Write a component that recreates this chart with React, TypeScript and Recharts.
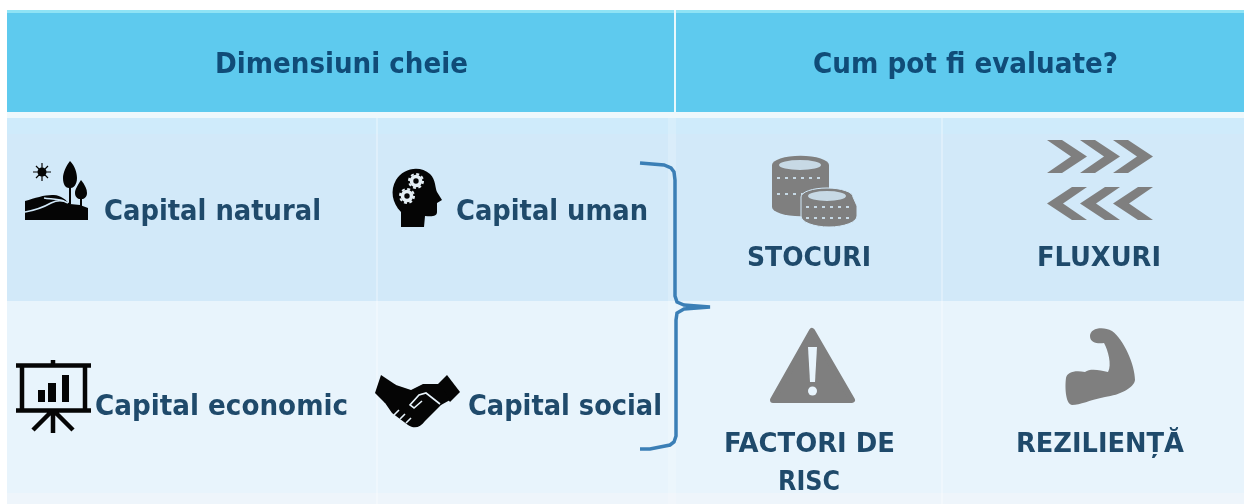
import { ReferenceArea, ReferenceLine, Scatter, ScatterChart, XAxis, YAxis } from "recharts";

const W = 1244;
const H = 504;

const TEXT_DARK = "#1f4a6b";
const TEXT_HEAD = "#104c78";
const GREY = "#7f7f7f";
const BLACK = "#050505";

// table bands, in picture pixels
const bands = [
  { x1: 7, x2: W, y1: 10, y2: 13, fill: "#8fe3f5" },
  { x1: 7, x2: W, y1: 13, y2: 112, fill: "#5ecaee" },
  { x1: 7, x2: W, y1: 112, y2: 118, fill: "#eef8fc" },
  { x1: 7, x2: W, y1: 118, y2: 134, fill: "#cfebfb" },
  { x1: 7, x2: W, y1: 134, y2: 301, fill: "#d2e9f9" },
  { x1: 7, x2: W, y1: 301, y2: 493, fill: "#e8f4fc" },
  { x1: 7, x2: W, y1: 493, y2: H, fill: "#eef5fb" },
];

const dividers = [
  { x: 377, y1: 118, y2: H, stroke: "#ffffff", w: 2, o: 0.3 },
  { x: 675, y1: 10, y2: 112, stroke: "#e8f8fc", w: 2, o: 1 },
  { x: 672, y1: 118, y2: H, stroke: "#ffffff", w: 8, o: 0.18 },
  { x: 942, y1: 118, y2: H, stroke: "#ffffff", w: 2, o: 0.3 },
];

// text labels
const labelTexts = [
  "Dimensiuni cheie",
  "Cum pot fi evaluate?",
  "Capital natural",
  "Capital uman",
  "Capital economic",
  "Capital social",
  "STOCURI",
  "FLUXURI",
  "FACTORI DE",
  "RISC",
  "REZILIENȚĂ",
];
const labelLeft = [215, 813, 104, 456, 95, 468, 747, 1037, 724, 778, 1016];
const labelBase = [73, 73, 220, 220, 415, 415, 266, 266, 452, 490, 452];
const labelWidth = [253, 305, 217, 192, 253, 194, 124, 124, 171, 62, 168];
const labelSize = [28, 28, 28, 28, 28, 28, 27, 27, 27, 27, 27];
const labelColor = [
  TEXT_HEAD,
  TEXT_HEAD,
  TEXT_DARK,
  TEXT_DARK,
  TEXT_DARK,
  TEXT_DARK,
  TEXT_DARK,
  TEXT_DARK,
  TEXT_DARK,
  TEXT_DARK,
  TEXT_DARK,
];

const labelRows = labelTexts.map((text, i) => ({
  x: labelLeft[i],
  y: labelBase[i],
  text,
  width: labelWidth[i],
  size: labelSize[i],
  color: labelColor[i],
}));

const iconNames = ["landscape", "head", "easel", "handshake", "coins", "chevrons", "warning", "bicep"];
const iconRows = iconNames.map((name) => ({ x: 0, y: 0, name }));

// curly bracket between the two halves of the table
const bracketX = [640, 652, 664, 671, 674, 675, 675, 677, 684, 710, 684, 677, 676, 676, 674, 670, 660, 650, 640];
const bracketY = [163, 164, 165, 168, 172, 180, 296, 302, 305, 307, 309, 313, 320, 436, 442, 445, 447, 449, 449];
const bracketPoints = bracketX.map((x, i) => ({ x, y: bracketY[i] }));

function Landscape() {
  return (
    <g fill={BLACK}>
      <circle cx={42} cy={172} r={4.5} />
      <path d="M42 163V181M33 172H51M36 166L48 178M48 166L36 178" stroke={BLACK} strokeWidth={1.2} />
      <path d="M70 161C75 166 77 173 77 178C77 185 73 188 71 188V204H69V188C66 188 63 185 63 178C63 173 66 166 70 161Z" />
      <path d="M81 180C85 185 87 189 87 193C87 197 84 199 82 199V207H80V199C78 199 75 197 75 193C75 189 78 185 81 180Z" />
      <path d="M25 201C35 198 44 195 52 195C60 194 66 200 70 204L80 205L88 208V220H25Z" />
      <path d="M25 212C36 210 44 207 51 203C57 200 63 200 68 203M44 198C50 199 58 199 64 201" fill="none" stroke="#d2e9f9" strokeWidth={1.6} />
    </g>
  );
}

function Head() {
  return (
    <g>
      <path
        d="M401 227L401 212C392 203 390 190 396 180C403 168 420 165 430 174C436 180 435 188 437 192L442 200L437 203L437 212C437 216 433 217 425 216L424 227Z"
        fill={BLACK}
      />
      <circle cx={416} cy={181} r={4.5} fill="none" stroke="#e4eef4" strokeWidth={3.6} />
      <circle cx={416} cy={181} r={7} fill="none" stroke="#e4eef4" strokeWidth={2} strokeDasharray="3 2.5" />
      <circle cx={407} cy={196} r={4.5} fill="none" stroke="#e4eef4" strokeWidth={3.6} />
      <circle cx={407} cy={196} r={7} fill="none" stroke="#e4eef4" strokeWidth={2} strokeDasharray="3 2.5" />
    </g>
  );
}

function Easel() {
  return (
    <g>
      <path
        d="M16 365.5H91M22 365V410M85 365V410M16 410.5H91M53 360V365M53 410V433M51 412L33 430M55 412L73 430"
        stroke={BLACK}
        strokeWidth={4.5}
        fill="none"
      />
      <path d="M38 390H45V402H38ZM48 383H56V402H48ZM62 375H69V402H62Z" fill={BLACK} />
    </g>
  );
}

function Handshake() {
  return (
    <g>
      <path d="M381 375L396 385L385 403L375 393Z" fill={BLACK} />
      <path d="M447 375L460 392L450 402L437 385Z" fill={BLACK} />
      <path
        d="M393 384L411 390L423 384L440 384L450 400L441 405L425 421C420 428 414 429 408 425L392 413L383 400Z"
        fill={BLACK}
      />
      <path
        d="M440 404L426 393L419 395L410 405L414 408L422 401M399 410L394 415M405 414L400 419M411 418L406 423"
        fill="none"
        stroke="#e8f4fc"
        strokeWidth={1.6}
      />
    </g>
  );
}

function Coins() {
  return (
    <g>
      <path d="M772 165A28 9 0 0 1 829 165V207A28 9 0 0 1 772 207Z" fill={GREY} />
      <ellipse cx={800} cy={165} rx={21} ry={5} fill="#c7d9e5" />
      <path d="M777 178H824M777 194H824" stroke="#c7d9e5" strokeWidth={2} strokeDasharray="3 5" />
      <path d="M801 197A26 9 0 0 1 853 197L857 206V216A28 11 0 0 1 801 216Z" fill={GREY} stroke="#d2e9f9" strokeWidth={1} />
      <ellipse cx={827} cy={196} rx={19} ry={5} fill="#c7d9e5" />
      <path d="M806 207H850M806 218H850" stroke="#c7d9e5" strokeWidth={2} strokeDasharray="3 5" />
    </g>
  );
}

const chevronOffsets = [0, 33, 66];

function Chevrons() {
  return (
    <g fill={GREY}>
      {chevronOffsets.map((dx) => (
        <path key={`r${dx}`} d={`M${1047 + dx} 140H${1062 + dx}L${1087 + dx} 156.5L${1062 + dx} 173H${1047 + dx}L${1071 + dx} 156.5Z`} />
      ))}
      {chevronOffsets.map((dx) => (
        <path key={`l${dx}`} d={`M${1087 + dx} 187H${1072 + dx}L${1047 + dx} 203.5L${1072 + dx} 220H${1087 + dx}L${1063 + dx} 203.5Z`} />
      ))}
    </g>
  );
}

function Warning() {
  return (
    <g>
      <path d="M812 331L852 400H773Z" fill={GREY} stroke={GREY} strokeWidth={6} strokeLinejoin="round" />
      <path d="M808 347H817L815 382H810Z" fill="#e8f4fc" />
      <circle cx={812.5} cy={391} r={4.5} fill="#e8f4fc" />
    </g>
  );
}

function Bicep() {
  return (
    <path
      d="M1090 336C1090 328 1103 326 1112 331C1124 340 1135 365 1135 380C1134 388 1120 395 1105 397C1090 400 1080 405 1072 405C1065 404 1065 385 1066 378C1067 372 1075 370 1085 372C1090 368 1100 370 1108 372C1112 365 1108 350 1104 343C1098 344 1090 343 1090 336Z"
      fill={GREY}
    />
  );
}

const iconParts: Record<string, () => React.ReactElement> = {
  landscape: Landscape,
  head: Head,
  easel: Easel,
  handshake: Handshake,
  coins: Coins,
  chevrons: Chevrons,
  warning: Warning,
  bicep: Bicep,
};

function IconShape(props: any) {
  const Icon = iconParts[props.payload.name];
  return (
    <g transform={`translate(${props.cx} ${props.cy})`}>
      <Icon />
    </g>
  );
}

function LabelShape(props: any) {
  const { text, width, size, color } = props.payload;
  return (
    <text
      x={props.cx}
      y={props.cy}
      fill={color}
      fontSize={size}
      fontWeight={700}
      fontFamily='"DejaVu Sans Condensed", "DejaVu Sans", sans-serif'
      textLength={width}
      lengthAdjust="spacingAndGlyphs"
    >
      {text}
    </text>
  );
}

export default function App() {
  return (
    <div style={{ position: "absolute", left: 0, top: 0, width: W, height: H, background: "#fff", filter: "blur(0.6px)" }}>
      <ScatterChart width={W} height={H} margin={{ top: 0, right: 0, bottom: 0, left: 0 }}>
        <XAxis type="number" dataKey="x" domain={[0, W]} hide allowDataOverflow />
        <YAxis type="number" dataKey="y" domain={[0, H]} reversed hide allowDataOverflow />
        {bands.map((b) => (
          <ReferenceArea key={b.y1} x1={b.x1} x2={b.x2} y1={b.y1} y2={b.y2} fill={b.fill} fillOpacity={1} stroke="none" />
        ))}
        {dividers.map((d) => (
          <ReferenceLine
            key={`${d.x}-${d.y1}`}
            segment={[
              { x: d.x, y: d.y1 },
              { x: d.x, y: d.y2 },
            ]}
            stroke={d.stroke}
            strokeOpacity={d.o}
            strokeWidth={d.w}
          />
        ))}
        <Scatter
          data={bracketPoints}
          line={{ stroke: "#3b7fb6", strokeWidth: 3.5 }}
          shape={() => <g />}
          isAnimationActive={false}
        />
        <Scatter data={iconRows} shape={IconShape} isAnimationActive={false} />
        <Scatter data={labelRows} shape={LabelShape} isAnimationActive={false} />
      </ScatterChart>
    </div>
  );
}
